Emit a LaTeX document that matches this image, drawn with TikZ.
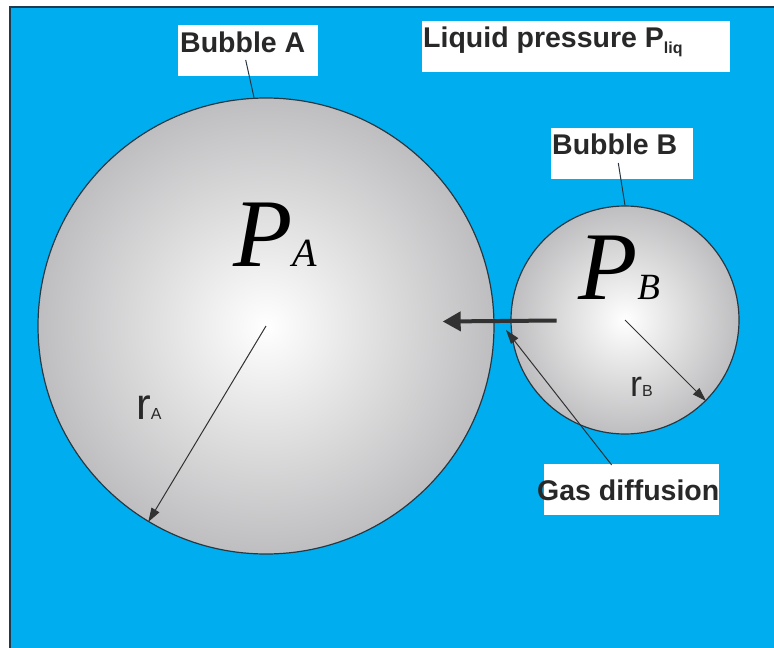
\documentclass[tikz,border=0pt]{standalone}
\usepackage{fontspec}
\setmainfont{Liberation Sans}
\newfontfamily\pfont{Liberation Serif}
\usetikzlibrary{arrows.meta}
\definecolor{liquid}{RGB}{0,174,239}
\definecolor{framecol}{RGB}{30,60,80}
\definecolor{bubedge}{RGB}{190,190,192}
\definecolor{bubline}{RGB}{40,55,65}
\definecolor{txtgray}{RGB}{40,40,40}
\definecolor{arrgray}{RGB}{50,50,50}
\tikzset{
  bubble/.style={circle, inner sep=0pt, draw=bubline, line width=1.2pt, shading=radial, inner color=white, outer color=bubedge},
  labelbox/.style={fill=white, inner sep=0pt, anchor=north west},
  labeltext/.style={inner sep=0pt, anchor=base west, text=txtgray, font=\fontsize{28.5}{30}\selectfont\bfseries},
  pressure/.style={inner sep=0pt, anchor=base west, text=black},
  radlabel/.style={inner sep=0pt, anchor=base west, text=txtgray},
  leader/.style={draw=bubline, line width=1pt},
  thinarrow/.style={draw=arrgray, line width=1pt, -{Triangle[length=14pt,width=9pt]}},
  thickarrow/.style={draw=arrgray, line width=4pt, -{Triangle[length=18pt,width=19pt]}}
}
\begin{document}
\begin{tikzpicture}[x=1pt,y=-1pt]
\useasboundingbox (0,0) rectangle (774,648);
\fill[white] (0,0) rectangle (774,648);
\draw[fill=liquid, draw=framecol, line width=1.5pt] (10,7) rectangle (780,655);

% bubbles
\node[bubble, minimum size=456pt] (bubA) at (266,326) {};
\node[bubble, minimum size=228pt] (bubB) at (625,320) {};

% label boxes
\node[labelbox, minimum width=140pt, minimum height=51pt] (boxA) at (178,25) {};
\node[labelbox, minimum width=308pt, minimum height=51pt] (boxL) at (421.7,21) {};
\node[labelbox, minimum width=141.7pt, minimum height=51.3pt] (boxB) at (551,127.7) {};
\node[labelbox, minimum width=175pt, minimum height=51pt] (boxG) at (543.3,464) {};

\node[labeltext] (txtA) at (180,52) {Bubble A};
\node[labeltext] (txtL) at (423,47.7) {Liquid pressure P\raisebox{-6pt}{\fontsize{16}{16}\selectfont liq}};
\node[labeltext] (txtB) at (552,154.3) {Bubble B};
\node[labeltext] (txtG) at (537,500.7) {Gas diffusion};

% pressures
\node[pressure] (PA) at (233,266.7) {\pfont\itshape\fontsize{97}{97}\selectfont P\fontsize{40}{40}\selectfont A};
\node[pressure] (PB) at (578,299.3) {\pfont\itshape\fontsize{97}{97}\selectfont P\fontsize{37}{37}\selectfont B};

% radius labels
\node[radlabel] (rA) at (136,419) {\fontsize{44}{44}\selectfont r\fontsize{16}{16}\selectfont A};
\node[radlabel] (rB) at (630,396.7) {\fontsize{36}{36}\selectfont r\fontsize{16}{16}\selectfont B};

% leaders
\coordinate (la) at (245.7,60);
\coordinate (lb) at (618.3,163);
\draw[leader] (la) -- (bubA.93.3);
\draw[leader] (lb) -- (bubB.90.5);

% radius arrows
\draw[thinarrow] (bubA.center) -- (bubA.239.8);
\draw[thinarrow] (bubB.center) -- (bubB.315.4);

% diffusion arrows
\coordinate (thickS) at (556.7,320.5);
\coordinate (thickE) at (442.7,321.5);
\draw[thickarrow] (thickS) -- (thickE);
\coordinate (gasS) at (611.7,465);
\coordinate (gasE) at (506,330);
\draw[thinarrow] (gasS) -- (gasE);
\end{tikzpicture}
\end{document}
